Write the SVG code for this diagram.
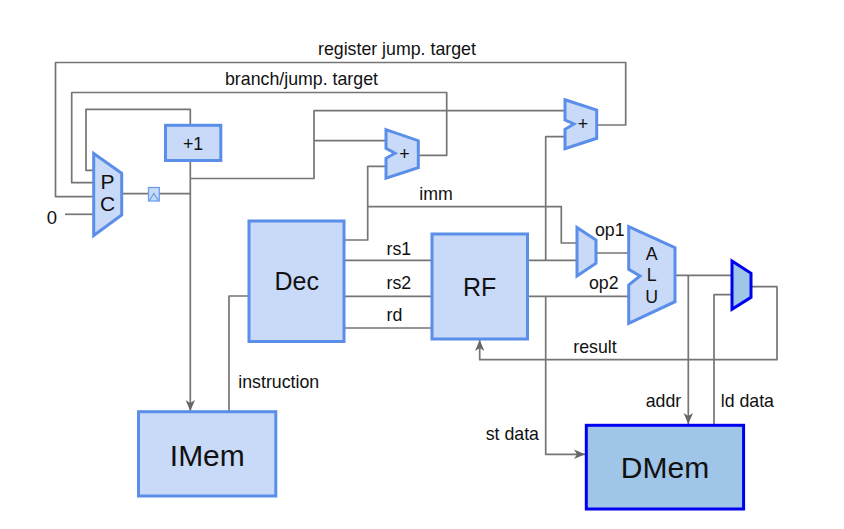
<svg xmlns="http://www.w3.org/2000/svg" width="844" height="529" viewBox="0 0 844 529">
<style>
text{font-family:"Liberation Sans",Arial,sans-serif;font-size:17.75px;fill:#111}
.c{text-anchor:middle}
.big{font-size:30px}
.mid{font-size:25px}
.w{fill:none;stroke:#757575;stroke-width:1.7;stroke-linejoin:round}
.a{marker-end:url(#arr)}
.n{fill:#c9daf8;stroke:#5b8ee9;stroke-width:3;stroke-linejoin:miter}
.d{fill:#9fc5e8;stroke:#0000f0;stroke-width:3}
.reg{fill:#c9daf8;stroke:#6d9eeb;stroke-width:1.3}
</style>
<defs>
<marker id="arr" markerUnits="userSpaceOnUse" markerWidth="14" markerHeight="12" refX="11" refY="5" orient="auto">
<path d="M0,0.3 L11,5 L0,9.7 L3,5 Z" fill="#666"/>
</marker>
</defs>
<g id="connectors">
<path class="w" d="M596.7,125H625.7V62.5H55.5V196.7H93.7"/>
<path class="w" d="M418.3,155.3H446.7V92.5H71.7V182.7H93.7"/>
<path class="w" d="M190.3,125V109.3H86V170.3H93.7"/>
<path class="w" d="M65,214.3H93.7"/>
<path class="w" d="M121.7,193.7H190.3"/>
<path class="w a" d="M190.3,160.7V411"/>
<path class="w" d="M190.3,178.5H314V110.7H565"/>
<path class="w" d="M314,140.7H386"/>
<path class="w" d="M344.7,240H367.7V166.3H386"/>
<path class="w" d="M367.7,206.7H561.3V243H577"/>
<path class="w" d="M565,136.7H545.7V260.3"/>
<path class="w" d="M344.7,260.3H431.7"/>
<path class="w" d="M344.7,296.3H431.7"/>
<path class="w" d="M344.7,328H431.7"/>
<path class="w" d="M527.5,260.3H577"/>
<path class="w" d="M596,253H628.7"/>
<path class="w" d="M527.5,296.3H628.7"/>
<path class="w a" d="M545.7,296.3V454.3H585"/>
<path class="w" d="M675,275.3H732"/>
<path class="w a" d="M688.3,275.3V424"/>
<path class="w" d="M714,425V294.7H732"/>
<path class="w a" d="M751,286.7H777V359.7H479.7V340"/>
<path class="w" d="M249,296H229V411.7"/>
</g>
<g id="pc"><polygon class="n" points="93.7,153.5 121.7,173.3 121.7,215 93.7,235.5"/>
<text class="c" x="107.5" y="188.5" style="font-size:21px">P</text><text class="c" x="107.5" y="211" style="font-size:21px">C</text></g>
<text id="zero" class="c" x="52" y="224" style="font-size:18.5px">0</text>
<g id="clock"><rect class="reg" x="148.5" y="187.5" width="10.8" height="13.5"/><path d="M149.5,200.5L153.9,193.5L158.3,200.5" fill="none" stroke="#6d9eeb" stroke-width="1.3"/></g>
<g id="inc"><rect class="n" x="165.5" y="125.3" width="55.3" height="35.2"/><text class="c" x="193" y="149.5">+1</text></g>
<g id="add1"><polygon class="n" points="386,129.7 418.3,140.7 418.3,167.7 386,178.3 386,158.3 395,153.3 386,148.3"/><text class="c" x="404.5" y="159.5">+</text></g>
<g id="add2"><polygon class="n" points="565,99.7 596.7,110 596.7,138.3 565,148.7 565,129.3 574,124 565,120"/><text class="c" x="583" y="129.5">+</text></g>
<g id="dec"><rect class="n" x="249" y="221" width="95" height="120.5"/><text class="c mid" x="296.7" y="290">Dec</text></g>
<g id="rf"><rect class="n" x="432" y="234" width="95.5" height="105"/><text class="c mid" x="479.7" y="296">RF</text></g>
<g id="imem"><rect class="n" x="138.5" y="411.7" width="137.3" height="84.3"/><text class="c big" x="207.3" y="465.7">IMem</text></g>
<g id="dmem"><rect class="d" x="586.3" y="425.3" width="157.3" height="83.7"/><text class="c big" x="665" y="478.3">DMem</text></g>
<g id="opmux"><polygon class="n" points="577,227.5 596,240 596,263.3 577,276"/></g>
<g id="alu"><polygon class="n" points="628.7,226.7 675,247.7 675,301.7 628.7,323.3 628.7,285 640,276 628.7,269.3"/>
<text class="c" x="651.7" y="260">A</text><text class="c" x="651.7" y="281">L</text><text class="c" x="651.7" y="302.7">U</text></g>
<g id="wbmux"><polygon class="d" points="732,261 751,273.3 751,297.3 732,309.3"/></g>
<g id="labels">
<text x="318" y="55">register jump. target</text>
<text x="225" y="85">branch/jump. target</text>
<text x="419.3" y="200">imm</text>
<text x="595" y="235.7">op1</text>
<text x="589" y="289">op2</text>
<text x="386.5" y="255">rs1</text>
<text x="386.5" y="289.3">rs2</text>
<text x="386.5" y="321">rd</text>
<text x="573.3" y="353.3">result</text>
<text x="238.3" y="388.3">instruction</text>
<text x="645.7" y="407.3">addr</text>
<text x="720.7" y="407">ld data</text>
<text x="485.7" y="440">st data</text>
</g>
</svg>
